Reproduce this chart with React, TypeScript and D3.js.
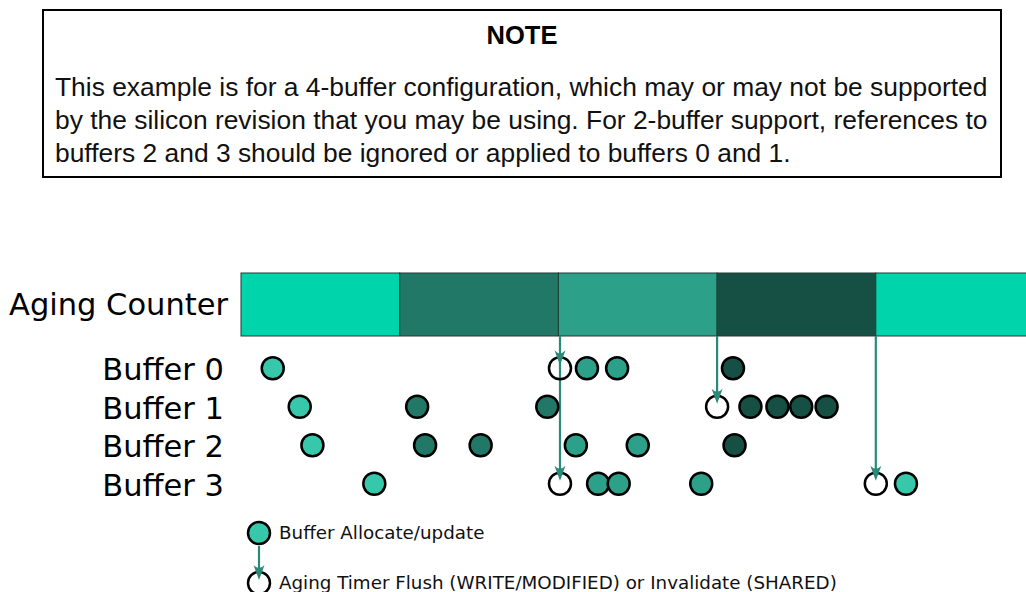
import React, { useEffect, useRef } from 'react'
import * as d3 from 'd3'

// note text
const noteTitle = 'NOTE'
const noteLines = [
  'This example is for a 4-buffer configuration, which may or may not be supported',
  'by the silicon revision that you may be using. For 2-buffer support, references to',
  'buffers 2 and 3 should be ignored or applied to buffers 0 and 1.',
]

// aging counter phases (one colour per phase)
const phaseColors = ['#00d4aa', '#217867', '#2ca089', '#164f44', '#00d4aa']
const dotColors = ['#37c8ab', '#217867', '#2ca089', '#164f44', '#37c8ab']

const bufferNames = ['Buffer 0', 'Buffer 1', 'Buffer 2', 'Buffer 3']

// allocate/update events, in aging-counter periods
const buffer0 = [0.2, 2.18, 2.37, 3.1]
const buffer1 = [0.37, 1.11, 1.93, 3.21, 3.38, 3.53, 3.69]
const buffer2 = [0.45, 1.16, 1.51, 2.11, 2.5, 3.11]
const buffer3 = [0.84, 2.25, 2.38, 2.9, 4.19]

// flush / invalidate events: time and the buffers it hits
const flushTimes = [2.01, 3.0, 4.0]
const flushRows = [[0, 3], [1], [3]]

const legendItems = [
  'Buffer Allocate/update',
  'Aging Timer Flush (WRITE/MODIFIED) or Invalidate (SHARED)',
]

export default function App() {
  const ref = useRef<SVGSVGElement>(null)

  useEffect(() => {
    const svg = d3.select(ref.current)
    svg.selectAll('*').remove()

    // ---- note box
    const note = svg.append('g')
    note.append('rect')
      .attr('x', 43).attr('y', 10)
      .attr('width', 958).attr('height', 167)
      .attr('fill', '#fff').attr('stroke', '#000').attr('stroke-width', 2)
    note.append('text')
      .attr('x', 522).attr('y', 44)
      .attr('text-anchor', 'middle')
      .attr('font-family', 'Liberation Sans, Arial, sans-serif')
      .attr('font-weight', 'bold')
      .attr('font-size', 25.5)
      .text(noteTitle)
    note.selectAll('text.line')
      .data(noteLines)
      .join('text')
      .attr('class', 'line')
      .attr('x', 55)
      .attr('y', (d, i) => 96 + i * 33)
      .attr('font-family', 'Liberation Sans, Arial, sans-serif')
      .attr('font-size', 26.4)
      .attr('fill', '#111')
      .text(d => d)

    // ---- timing diagram
    const x = d3.scaleLinear().domain([0, 5]).range([241, 241 + 5 * 158.7])
    const y = d3.scaleBand<number>().domain([0, 1, 2, 3]).range([349, 503])
    const cy = (i: number) => y(i)! + y.bandwidth() / 2
    const barTop = 273, barBottom = 336
    const r = 11
    const font = 'DejaVu Sans, Verdana, sans-serif'
    const arrowColor = '#2a8a78'

    const defs = svg.append('defs')
    defs.append('path')
      .attr('id', 'head')
      .attr('d', 'M0,0 L-5.5,-15 Q0,-9 5.5,-15 Z')
      .attr('fill', arrowColor)

    svg.append('g')
      .selectAll('rect')
      .data(phaseColors)
      .join('rect')
      .attr('x', (d, i) => x(i))
      .attr('y', barTop)
      .attr('width', x(1) - x(0))
      .attr('height', barBottom - barTop)
      .attr('fill', d => d)
      .attr('stroke', '#1d3d36')
      .attr('stroke-width', 1)
    svg.append('line')
      .attr('x1', x(0)).attr('x2', 1026)
      .attr('y1', barBottom + 0.5).attr('y2', barBottom + 0.5)
      .attr('stroke', '#999').attr('stroke-width', 1.2)

    svg.append('text')
      .attr('x', 228).attr('y', 315)
      .attr('text-anchor', 'end')
      .attr('font-family', font).attr('font-size', 30.5)
      .text('Aging Counter')

    svg.append('g')
      .selectAll('text')
      .data(bufferNames)
      .join('text')
      .attr('x', 224)
      .attr('y', (d, i) => cy(i) + 12)
      .attr('text-anchor', 'end')
      .attr('font-family', font).attr('font-size', 30.5)
      .text(d => d)

    // flush arrows (drawn under the circles)
    flushTimes.forEach((t, k) => {
      const rows = flushRows[k]
      const last = cy(rows[rows.length - 1]) - 2
      svg.append('line')
        .attr('x1', x(t)).attr('x2', x(t))
        .attr('y1', barBottom).attr('y2', last - 6)
        .attr('stroke', arrowColor).attr('stroke-width', 2.2)
    })

    const events = [buffer0, buffer1, buffer2, buffer3]
    const dots = events.flatMap((list, row) => list.map(t => ({ t, row })))
    svg.append('g')
      .selectAll('circle')
      .data(dots)
      .join('circle')
      .attr('cx', d => x(d.t))
      .attr('cy', d => cy(d.row))
      .attr('r', r)
      .attr('fill', d => dotColors[Math.floor(d.t)])
      .attr('stroke', '#000')
      .attr('stroke-width', 2.5)

    const flushDots = flushTimes.flatMap((t, k) => flushRows[k].map(row => ({ t, row })))
    svg.append('g')
      .selectAll('circle')
      .data(flushDots)
      .join('circle')
      .attr('cx', d => x(d.t))
      .attr('cy', d => cy(d.row))
      .attr('r', r)
      .attr('fill', 'none')
      .attr('stroke', '#000')
      .attr('stroke-width', 2.5)

    svg.append('g')
      .selectAll('use')
      .data(flushDots)
      .join('use')
      .attr('href', '#head')
      .attr('transform', d => `translate(${x(d.t)},${cy(d.row) - 3})`)

    // ---- legend
    const lx = 259
    const lg = svg.append('g')
    lg.append('line')
      .attr('x1', lx).attr('x2', lx)
      .attr('y1', 546).attr('y2', 572)
      .attr('stroke', arrowColor).attr('stroke-width', 2.2)
    lg.append('circle')
      .attr('cx', lx).attr('cy', 533).attr('r', r)
      .attr('fill', dotColors[0]).attr('stroke', '#000').attr('stroke-width', 2.5)
    lg.append('circle')
      .attr('cx', lx).attr('cy', 583).attr('r', r)
      .attr('fill', 'none').attr('stroke', '#000').attr('stroke-width', 2.5)
    lg.append('use')
      .attr('href', '#head')
      .attr('transform', `translate(${lx},580)`)
    lg.selectAll('text')
      .data(legendItems)
      .join('text')
      .attr('x', 279)
      .attr('y', (d, i) => 539 + i * 50)
      .attr('font-family', font).attr('font-size', 18.3)
      .attr('fill', '#111')
      .text(d => d)
  }, [])

  return (
    <svg
      ref={ref}
      width={1026}
      height={592}
      style={{ position: 'absolute', left: 0, top: 0, background: '#fff' }}
    />
  )
}
